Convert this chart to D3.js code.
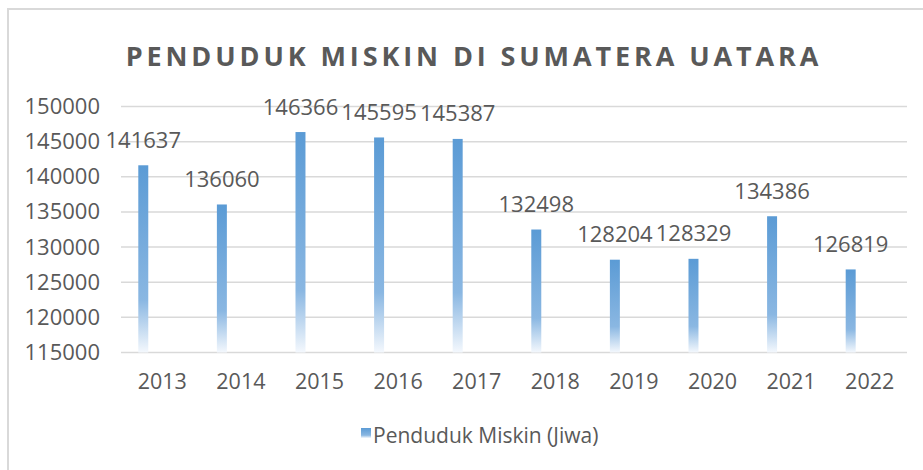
<!DOCTYPE html>
<html>
<head>
<meta charset="utf-8">
<script src="https://cdn.jsdelivr.net/npm/d3@7"></script>
<style>
  body { margin: 0; background: #fff; }
  svg text { font-family: "Open Sans", sans-serif; fill: #595959; }
</style>
</head>
<body>
<svg id="chart" width="923" height="470"></svg>
<script>
// data
var years = ["2013", "2014", "2015", "2016", "2017", "2018", "2019", "2020", "2021", "2022"];
var miskin = [141637, 136060, 146366, 145595, 145387, 132498, 128204, 128329, 134386, 126819];
var yTicks = [115000, 120000, 125000, 130000, 135000, 140000, 145000, 150000];
var judul = "PENDUDUK MISKIN DI SUMATERA UATARA";
var namaSeri = "Penduduk Miskin (Jiwa)";

var svg = d3.select("#chart");

// bingkai grafik
svg.append("rect")
  .attr("x", 8).attr("y", 9)
  .attr("width", 930).attr("height", 480)
  .attr("fill", "#fff")
  .attr("stroke", "#d9d9d9")
  .attr("stroke-width", 2);

// gradien batang
var grad = svg.append("defs").append("linearGradient")
  .attr("id", "biru")
  .attr("x1", 0).attr("y1", 0).attr("x2", 0).attr("y2", 1);
grad.append("stop").attr("offset", "0%").attr("stop-color", "#5b9bd5");
grad.append("stop").attr("offset", "72%").attr("stop-color", "#8ab7e2");
grad.append("stop").attr("offset", "100%").attr("stop-color", "#f4f8fd");

var x = d3.scaleBand().domain(years).range([121, 907]);
var y = d3.scaleLinear().domain([115000, 150000]).range([352.5, 106.5]);

// garis grid
svg.append("g")
  .selectAll("line")
  .data(yTicks)
  .join("line")
  .attr("x1", 121).attr("x2", 907)
  .attr("y1", d => y(d)).attr("y2", d => y(d))
  .attr("stroke", "#d9d9d9")
  .attr("stroke-width", 1.5);

// sumbu y
var yAxis = svg.append("g")
  .attr("transform", "translate(100,0)")
  .call(d3.axisLeft(y).tickValues(yTicks).tickSize(0).tickPadding(0).tickFormat(d3.format("d")));
yAxis.select(".domain").remove();
yAxis.selectAll("text")
  .style("font-size", "22px")
  .style("font-family", "Open Sans")
  .attr("fill", "#595959");

// sumbu x
var xAxis = svg.append("g")
  .attr("transform", "translate(2,374)")
  .call(d3.axisBottom(x).tickSize(0).tickPadding(0));
xAxis.select(".domain").remove();
xAxis.selectAll("text")
  .style("font-size", "21.5px")
  .style("font-family", "Open Sans")
  .attr("fill", "#595959");

// batang
var bw = x.bandwidth();
svg.append("g")
  .selectAll("rect")
  .data(miskin)
  .join("rect")
  .attr("x", (d, i) => x(years[i]) + bw * 0.22)
  .attr("y", d => y(d))
  .attr("width", bw * 0.127)
  .attr("height", d => y(115000) - y(d))
  .attr("fill", "url(#biru)");

// label data
svg.append("g")
  .selectAll("text")
  .data(miskin)
  .join("text")
  .attr("x", (d, i) => x(years[i]) + bw * 0.22 + bw * 0.0635)
  .attr("y", d => y(d) - 17.5)
  .attr("text-anchor", "middle")
  .style("font-size", "22px")
  .text(d => d);

// judul
svg.append("text")
  .attr("x", 474).attr("y", 66)
  .attr("text-anchor", "middle")
  .style("font-size", "27px")
  .style("font-weight", "bold")
  .style("letter-spacing", "3.9px")
  .text(judul);

// legenda
svg.append("rect")
  .attr("x", 361).attr("y", 428)
  .attr("width", 10).attr("height", 10)
  .attr("fill", "url(#biru)");
svg.append("text")
  .attr("x", 373).attr("y", 443)
  .style("font-size", "21px")
  .text(namaSeri);
</script>
</body>
</html>
